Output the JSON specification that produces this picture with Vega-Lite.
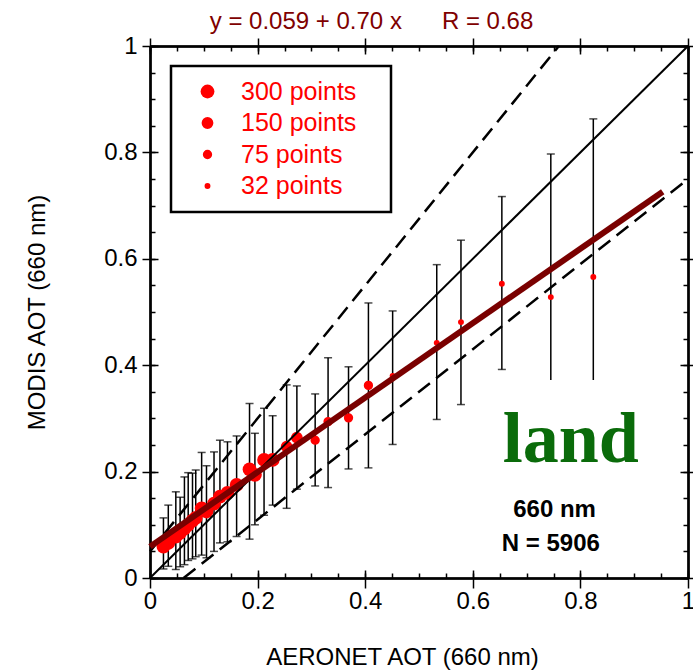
{
  "$schema": "https://vega.github.io/schema/vega-lite/v6.json",
  "width": 538,
  "height": 532,
  "autosize": "none",
  "padding": {"left": 150, "top": 46, "right": 5, "bottom": 92},
  "background": "white",
  "datasets": {
    "bins": [
      {"aod": 0.025, "modis": 0.059, "hi": 0.113, "lo": 0.017, "n": 300},
      {"aod": 0.034, "modis": 0.066, "hi": 0.137, "lo": 0.022, "n": 300},
      {"aod": 0.048, "modis": 0.078, "hi": 0.162, "lo": 0.016, "n": 300},
      {"aod": 0.056, "modis": 0.085, "hi": 0.152, "lo": 0.021, "n": 300},
      {"aod": 0.064, "modis": 0.093, "hi": 0.190, "lo": 0.025, "n": 300},
      {"aod": 0.071, "modis": 0.100, "hi": 0.198, "lo": 0.033, "n": 300},
      {"aod": 0.079, "modis": 0.108, "hi": 0.197, "lo": 0.036, "n": 300},
      {"aod": 0.085, "modis": 0.113, "hi": 0.203, "lo": 0.040, "n": 300},
      {"aod": 0.096, "modis": 0.131, "hi": 0.236, "lo": 0.043, "n": 300},
      {"aod": 0.105, "modis": 0.125, "hi": 0.211, "lo": 0.038, "n": 300},
      {"aod": 0.119, "modis": 0.140, "hi": 0.237, "lo": 0.050, "n": 300},
      {"aod": 0.130, "modis": 0.153, "hi": 0.259, "lo": 0.066, "n": 300},
      {"aod": 0.144, "modis": 0.160, "hi": 0.256, "lo": 0.068, "n": 300},
      {"aod": 0.161, "modis": 0.175, "hi": 0.267, "lo": 0.078, "n": 300},
      {"aod": 0.185, "modis": 0.204, "hi": 0.328, "lo": 0.073, "n": 300},
      {"aod": 0.195, "modis": 0.194, "hi": 0.272, "lo": 0.100, "n": 300},
      {"aod": 0.212, "modis": 0.222, "hi": 0.319, "lo": 0.118, "n": 300},
      {"aod": 0.228, "modis": 0.222, "hi": 0.305, "lo": 0.137, "n": 300},
      {"aod": 0.254, "modis": 0.247, "hi": 0.363, "lo": 0.131, "n": 150},
      {"aod": 0.273, "modis": 0.264, "hi": 0.361, "lo": 0.167, "n": 150},
      {"aod": 0.307, "modis": 0.259, "hi": 0.346, "lo": 0.173, "n": 75},
      {"aod": 0.331, "modis": 0.294, "hi": 0.414, "lo": 0.170, "n": 75},
      {"aod": 0.369, "modis": 0.301, "hi": 0.397, "lo": 0.205, "n": 75},
      {"aod": 0.406, "modis": 0.362, "hi": 0.517, "lo": 0.207, "n": 75},
      {"aod": 0.451, "modis": 0.380, "hi": 0.502, "lo": 0.251, "n": 32},
      {"aod": 0.533, "modis": 0.442, "hi": 0.589, "lo": 0.298, "n": 32},
      {"aod": 0.578, "modis": 0.481, "hi": 0.635, "lo": 0.326, "n": 32},
      {"aod": 0.654, "modis": 0.553, "hi": 0.717, "lo": 0.392, "n": 32},
      {"aod": 0.745, "modis": 0.528, "hi": 0.797, "lo": 0.372, "n": 32},
      {"aod": 0.824, "modis": 0.566, "hi": 0.863, "lo": 0.372, "n": 32}
    ],
    "lines": [
      {"kind": "one", "x0": 0, "y0": 0, "x1": 1, "y1": 1},
      {"kind": "upper", "x0": 0, "y0": 0.05, "x1": 0.76, "y1": 1},
      {"kind": "lower", "x0": 0.0625, "y0": 0, "x1": 1, "y1": 0.75},
      {"kind": "fit", "x0": 0, "y0": 0.059, "x1": 0.953, "y1": 0.726}
    ]
  },
  "config": {
    "view": {"stroke": null},
    "axis": {
      "grid": false,
      "domainColor": "black",
      "domainWidth": 2,
      "tickColor": "black",
      "tickWidth": 1.5,
      "labelFont": "Liberation Sans",
      "labelFontSize": 24,
      "labelColor": "black",
      "labelFlush": false,
      "titleFont": "Liberation Sans",
      "titleFontSize": 24,
      "titleFontWeight": "normal",
      "titleColor": "black"
    },
    "legend": {"strokeWidth": 2.5}
  },
  "resolve": {"axis": {"x": "independent", "y": "independent"}},
  "layer": [
    {
      "data": {"name": "bins"},
      "mark": {"type": "rule", "color": "black", "strokeWidth": 1.5},
      "encoding": {
        "x": {"field": "aod", "type": "quantitative", "scale": {"domain": [0, 1], "nice": false},
          "axis": {"orient": "bottom", "values": [0, 0.2, 0.4, 0.6, 0.8, 1], "format": "~g", "tickSize": 10, "labelPadding": 1,
            "title": "AERONET AOT (660 nm)", "titleX": 252, "titleY": 79, "titleBaseline": "middle"}},
        "y": {"field": "lo", "type": "quantitative", "scale": {"domain": [0, 1], "nice": false},
          "axis": {"orient": "left", "values": [0, 0.2, 0.4, 0.6, 0.8, 1], "format": "~g", "tickSize": 8, "labelPadding": 5,
            "title": "MODIS AOT (660 nm)", "titleX": -113, "titleY": 266, "titleAngle": -90, "titleBaseline": "middle"}},
        "y2": {"field": "hi"}
      }
    },
    {
      "data": {"name": "bins"},
      "mark": {"type": "tick", "orient": "horizontal", "color": "black", "thickness": 1.5, "size": 8},
      "encoding": {
        "x": {"field": "aod", "type": "quantitative",
          "axis": {"orient": "bottom", "values": [0, 0.05, 0.1, 0.15, 0.2, 0.25, 0.3, 0.35, 0.4, 0.45, 0.5, 0.55, 0.6, 0.65, 0.7, 0.75, 0.8, 0.85, 0.9, 0.95, 1], "tickSize": -5, "labels": false, "title": null}},
        "y": {"field": "hi", "type": "quantitative",
          "axis": {"orient": "left", "values": [0, 0.05, 0.1, 0.15, 0.2, 0.25, 0.3, 0.35, 0.4, 0.45, 0.5, 0.55, 0.6, 0.65, 0.7, 0.75, 0.8, 0.85, 0.9, 0.95, 1], "tickSize": -5, "labels": false, "title": null}}
      }
    },
    {
      "data": {"name": "bins"},
      "transform": [{"filter": "datum.aod < 0.7"}],
      "mark": {"type": "tick", "orient": "horizontal", "color": "black", "thickness": 1.5, "size": 8},
      "encoding": {
        "x": {"field": "aod", "type": "quantitative",
          "axis": {"orient": "bottom", "values": [0, 0.2, 0.4, 0.6, 0.8, 1], "tickSize": -8, "labels": false, "title": null}},
        "y": {"field": "lo", "type": "quantitative",
          "axis": {"orient": "left", "values": [0, 0.2, 0.4, 0.6, 0.8, 1], "tickSize": -8, "labels": false, "title": null}}
      }
    },
    {
      "data": {"name": "bins"},
      "mark": {"type": "circle", "color": "#ff0000", "opacity": 1},
      "encoding": {
        "x": {"field": "aod", "type": "quantitative", "axis": null},
        "y": {"field": "modis", "type": "quantitative", "axis": null},
        "size": {"field": "n", "type": "ordinal",
          "scale": {"type": "point", "domain": [300, 150, 75, 32], "range": [190, 35], "padding": 0},
          "legend": {
            "orient": "none", "legendX": 21, "legendY": 20, "direction": "vertical",
            "title": null, "labelFont": "Liberation Sans", "labelFontSize": 25, "labelColor": "#ff0000",
            "symbolFillColor": "#ff0000", "symbolStrokeWidth": 0, "symbolOpacity": 1, "symbolType": "circle",
            "padding": 13, "rowPadding": 5.5, "labelOffset": 21, "symbolOffset": 11,
            "strokeColor": "black", "fillColor": "white",
            "labelExpr": "datum.label + ' points\u00a0\u00a0\u00a0\u200b'"
          }}
      }
    },
    {
      "data": {"name": "lines"},
      "transform": [{"filter": "datum.kind == 'one'"}],
      "mark": {"type": "rule", "color": "black", "strokeWidth": 2},
      "encoding": {
        "x": {"field": "x0", "type": "quantitative",
          "axis": {"orient": "top", "values": [0, 0.2, 0.4, 0.6, 0.8, 1], "tickSize": 8, "labels": false,
            "title": "y = 0.059 + 0.70 x\u00a0\u00a0\u00a0\u00a0\u00a0\u00a0R = 0.68", "titleColor": "#800000",
            "titleX": 221, "titleY": -18, "titleBaseline": "alphabetic", "titleAlign": "center", "titleAnchor": null}},
        "y": {"field": "y0", "type": "quantitative",
          "axis": {"orient": "right", "values": [0, 0.2, 0.4, 0.6, 0.8, 1], "tickSize": 8, "labels": false, "title": null}},
        "x2": {"field": "x1"},
        "y2": {"field": "y1"}
      }
    },
    {
      "data": {"name": "lines"},
      "transform": [{"filter": "datum.kind == 'upper' || datum.kind == 'lower'"}],
      "mark": {"type": "rule", "color": "black", "strokeWidth": 2.5, "strokeDash": [15, 8]},
      "encoding": {
        "x": {"field": "x0", "type": "quantitative",
          "axis": {"orient": "top", "values": [0, 0.05, 0.1, 0.15, 0.2, 0.25, 0.3, 0.35, 0.4, 0.45, 0.5, 0.55, 0.6, 0.65, 0.7, 0.75, 0.8, 0.85, 0.9, 0.95, 1], "tickSize": -5, "labels": false, "title": null}},
        "y": {"field": "y0", "type": "quantitative",
          "axis": {"orient": "right", "values": [0, 0.05, 0.1, 0.15, 0.2, 0.25, 0.3, 0.35, 0.4, 0.45, 0.5, 0.55, 0.6, 0.65, 0.7, 0.75, 0.8, 0.85, 0.9, 0.95, 1], "tickSize": -5, "labels": false, "title": null}},
        "x2": {"field": "x1"},
        "y2": {"field": "y1"}
      }
    },
    {
      "data": {"name": "lines"},
      "transform": [{"filter": "datum.kind == 'fit'"}],
      "mark": {"type": "rule", "color": "#7a0000", "strokeWidth": 6},
      "encoding": {
        "x": {"field": "x0", "type": "quantitative",
          "axis": {"orient": "top", "values": [0, 0.2, 0.4, 0.6, 0.8, 1], "tickSize": -8, "labels": false, "title": null}},
        "y": {"field": "y0", "type": "quantitative",
          "axis": {"orient": "right", "values": [0, 0.2, 0.4, 0.6, 0.8, 1], "tickSize": -8, "labels": false, "title": null}},
        "x2": {"field": "x1"},
        "y2": {"field": "y1"}
      }
    },
    {
      "data": {"values": [{"label": "land"}]},
      "mark": {"type": "text", "font": "Liberation Serif", "fontWeight": "bold", "fontSize": 72, "color": "#0a6b0a", "align": "center", "baseline": "alphabetic"},
      "encoding": {
        "text": {"field": "label", "type": "nominal"},
        "x": {"datum": 0.782, "type": "quantitative", "axis": null},
        "y": {"datum": 0.218, "type": "quantitative", "axis": null}
      }
    },
    {
      "data": {"values": [{"label": "660 nm"}]},
      "mark": {"type": "text", "font": "Liberation Sans", "fontWeight": "bold", "fontSize": 24, "color": "black", "align": "center", "baseline": "alphabetic"},
      "encoding": {
        "text": {"field": "label", "type": "nominal"},
        "x": {"datum": 0.752, "type": "quantitative", "axis": null},
        "y": {"datum": 0.114, "type": "quantitative", "axis": null}
      }
    },
    {
      "data": {"values": [{"label": "N = 5906"}]},
      "mark": {"type": "text", "font": "Liberation Sans", "fontWeight": "bold", "fontSize": 24, "color": "black", "align": "center", "baseline": "alphabetic"},
      "encoding": {
        "text": {"field": "label", "type": "nominal"},
        "x": {"datum": 0.745, "type": "quantitative", "axis": null},
        "y": {"datum": 0.0513, "type": "quantitative", "axis": null}
      }
    }
  ]
}
